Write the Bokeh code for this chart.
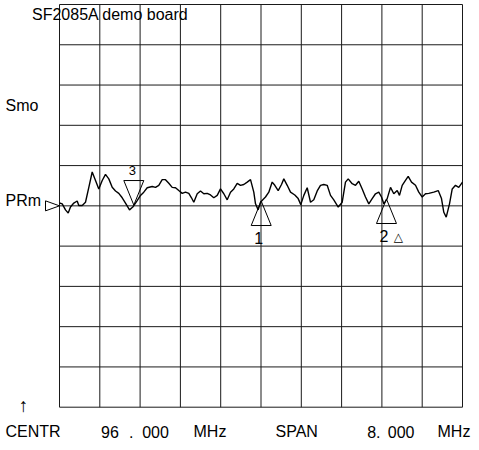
from bokeh.plotting import figure
from bokeh.models import Range1d, Label
from bokeh.embed import file_html
from bokeh.resources import INLINE

# ---------------- data ----------------
freq_mhz = [92.000, 92.054, 92.119, 92.173, 92.218, 92.284, 92.351, 92.383, 92.451, 92.516,
            92.582, 92.649, 92.715, 92.780, 92.848, 92.913, 92.979, 93.046, 93.112, 93.177,
            93.245, 93.310, 93.390, 93.455, 93.542, 93.608, 93.673, 93.741, 93.840, 93.906,
            93.971, 94.039, 94.104, 94.170, 94.237, 94.303, 94.368, 94.436, 94.501, 94.567,
            94.620, 94.666, 94.734, 94.799, 94.865, 94.932, 94.998, 95.063, 95.131, 95.196,
            95.262, 95.329, 95.395, 95.460, 95.528, 95.593, 95.659, 95.726, 95.792, 95.857,
            95.891, 95.944, 95.990, 96.036, 96.089, 96.155, 96.222, 96.274, 96.341, 96.407,
            96.453, 96.520, 96.586, 96.671, 96.738, 96.790, 96.850, 96.917, 96.983, 97.048,
            97.116, 97.181, 97.247, 97.314, 97.380, 97.445, 97.533, 97.612, 97.677, 97.731,
            97.810, 97.876, 97.941, 98.009, 98.074, 98.140, 98.207, 98.273, 98.338, 98.392,
            98.438, 98.505, 98.571, 98.636, 98.704, 98.749, 98.803, 98.868, 98.922, 98.988,
            99.067, 99.132, 99.200, 99.266, 99.331, 99.430, 99.518, 99.583, 99.629, 99.677,
            99.742, 99.796, 99.861, 99.926, 100.000]
level_div = [5.07, 5.05, 4.90, 4.82, 4.97, 5.07, 5.12, 5.01, 5.01, 5.09,
             5.46, 5.84, 5.63, 5.42, 5.63, 5.78, 5.67, 5.46, 5.37, 5.31,
             5.20, 5.07, 4.90, 4.97, 5.13, 5.26, 5.34, 5.45, 5.48, 5.46,
             5.51, 5.65, 5.65, 5.56, 5.46, 5.45, 5.38, 5.31, 5.34, 5.31,
             5.20, 5.09, 5.30, 5.37, 5.30, 5.31, 5.27, 5.20, 5.26, 5.42,
             5.30, 5.15, 5.34, 5.42, 5.56, 5.51, 5.53, 5.59, 5.65, 5.34,
             5.05, 4.90, 5.09, 5.15, 5.22, 5.34, 5.59, 5.51, 5.38, 5.53,
             5.67, 5.51, 5.34, 5.27, 5.18, 5.03, 5.26, 5.45, 5.09, 5.15,
             5.37, 5.51, 5.53, 5.51, 5.26, 5.15, 4.97, 5.09, 5.59, 5.67,
             5.55, 5.51, 5.61, 5.42, 5.22, 5.05, 5.18, 5.30, 5.34, 5.22,
             5.05, 5.18, 5.46, 5.30, 5.38, 5.26, 5.51, 5.63, 5.73, 5.59,
             5.51, 5.34, 5.22, 5.30, 5.31, 5.34, 5.38, 5.18, 4.84, 4.72,
             5.05, 5.42, 5.51, 5.46, 5.59]

center_mhz = 96.0
span_mhz = 8.0
n_div = 10
ref_level = 5.0

marker_names = ["1", "2", "3"]
marker_freq = [96.004, 98.491, 93.475]
marker_level = [5.12, 5.17, 5.02]
marker_up = [True, True, False]

title_text = "SF2085A demo board"
left_labels = ["Smo", "PRm"]
bottom_texts = ["CENTR", "96", ".", "000", "MHz", "SPAN", "8.", "000", "MHz"]

# ---------------- layout ----------------
W, H = 471, 442
GL, GR, GT, GB = 59, 9, 4, 35.3
PX_X = (W - GL - GR) / span_mhz
PX_Y = (H - GT - GB) / n_div
f0 = center_mhz - span_mhz / 2
f1 = center_mhz + span_mhz / 2
BASE_FIX = 0.35  # em shift so alphabetic baselines land where intended


def dx(px):
    return px / PX_X


def dy(px):
    return px / PX_Y


FONT = "Liberation Sans"

p = figure(width=W, height=H, output_backend="svg", toolbar_location=None, tools="",
           x_range=Range1d(f0 - dx(GL), f1 + dx(GR)),
           y_range=Range1d(-dy(GB), n_div + dy(GT)),
           x_axis_type=None, y_axis_type=None, min_border=0, title=None)
p.outline_line_color = None
p.background_fill_color = "white"
p.border_fill_color = "white"

# graticule
vx = [f0 + k * span_mhz / n_div for k in range(n_div + 1)]
p.segment(x0=vx, y0=[0] * len(vx), x1=vx, y1=[n_div] * len(vx),
          line_color="#1a1a1a", line_width=1)
hy = list(range(n_div + 1))
p.segment(x0=[f0] * len(hy), y0=hy, x1=[f1] * len(hy), y1=hy,
          line_color="#1a1a1a", line_width=1)

# trace
p.line(freq_mhz, level_div, line_color="black", line_width=1.4)

# markers
hw, th = 10, 24.5
xs, ys = [], []
for f, l, up in zip(marker_freq, marker_level, marker_up):
    xs.append([f - dx(hw), f + dx(hw), f])
    if up:
        ys.append([l - dy(th), l - dy(th), l])
    else:
        ys.append([l + dy(th), l + dy(th), l])
p.patches(xs, ys, fill_color=None, line_color="black", line_width=1)

for name, f, l, up in zip(marker_names, marker_freq, marker_level, marker_up):
    if up:
        p.add_layout(Label(x=f - dx(2.5), y=l - dy(42.5 - BASE_FIX * 16), text=name,
                           text_font=FONT, text_font_size="16px", text_align="center",
                           text_baseline="alphabetic", text_color="black"))
    else:
        p.add_layout(Label(x=f - dx(1.5), y=l + dy(29.5 + BASE_FIX * 13), text=name,
                           text_font=FONT, text_font_size="13px", text_align="center",
                           text_baseline="alphabetic", text_color="black"))

# delta marker sign next to marker 2
p.add_layout(Label(x=marker_freq[1] + dx(12), y=marker_level[1] - dy(38), text="\u25b3",
                   text_font="DejaVu Sans", text_font_size="12px", text_align="center",
                   text_baseline="middle", text_color="black"))

# reference level arrow
p.patch([f0 - dx(14), f0 - dx(14), f0], [ref_level + dy(5), ref_level - dy(5), ref_level],
        fill_color=None, line_color="black", line_width=1)


# static texts (screen units: x from left, y from bottom of the canvas)
def slabel(text, sx, y_top, align="left", font=FONT, size=16, data_y=None):
    if data_y is None:
        y = H - y_top + BASE_FIX * size
        yu = "screen"
    else:
        y = data_y + dy(BASE_FIX * size)
        yu = "data"
    p.add_layout(Label(x=sx, y=y, x_units="screen", y_units=yu, text=text,
                       text_font=font, text_font_size=f"{size}px", text_align=align,
                       text_baseline="alphabetic", text_color="black"))


slabel(title_text, 31.5, 20, size=16)
slabel(left_labels[0], 5, 111)
slabel(left_labels[1], 5, None, data_y=ref_level)
slabel("\u2191", 23, 412, align="center", size=19)

bx = [5, 100.5, 128.5, 141.7, 193, 275, 366.7, 387.3, 437]
for t, sx in zip(bottom_texts, bx):
    slabel(t, sx, 437)

open("out.html", "w").write(file_html(p, INLINE))
